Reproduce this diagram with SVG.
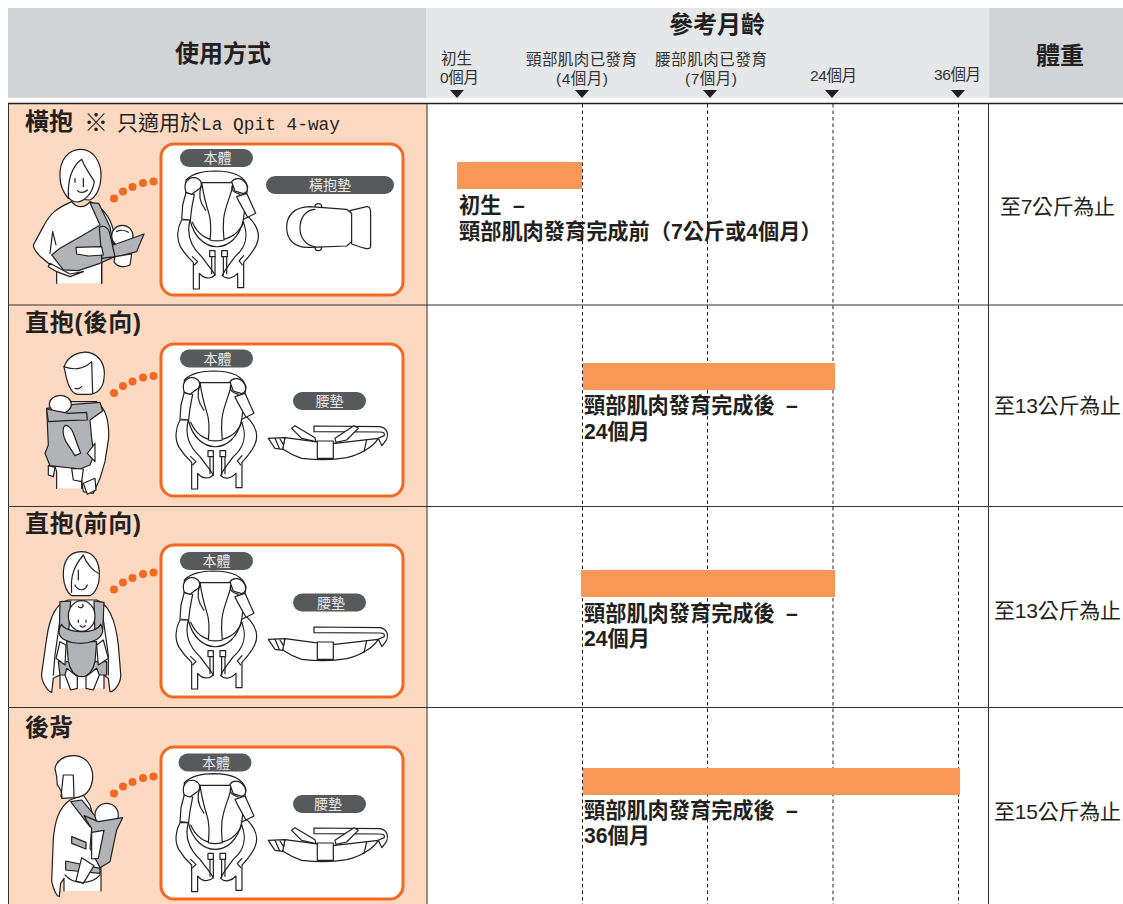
<svg xmlns="http://www.w3.org/2000/svg" width="1123" height="904" viewBox="0 0 1123 904">
<style>
text{font-family:"Liberation Sans","Noto Sans CJK TC","Noto Sans CJK JP",sans-serif;fill:#231f20}
.h{font-size:24px;font-weight:700}
.t{font-size:15.5px;fill:#333}
.b{font-size:21.200px;font-weight:700}
.w{font-size:21px}
.p{font-size:14px;fill:#e8e8e8;text-anchor:middle}
.box{fill:#fff;stroke:#f26a21;stroke-width:3}
.pill{fill:#58595b}
.row{fill:none;stroke:#333;stroke-width:1}
.dash{stroke:#231f20;stroke-width:1;stroke-dasharray:3.500 3;fill:none}
.bar{fill:#f99757}
.dot{fill:#f26a21}
.ln{fill:#fff;stroke:#231f20;stroke-width:3.600;stroke-linejoin:round;stroke-linecap:round}
.o{fill:none;stroke:#231f20;stroke-width:3.600;stroke-linejoin:round;stroke-linecap:round}
.g{fill:#b1b3b6;stroke:#231f20;stroke-width:3.600;stroke-linejoin:round}
</style>
<defs>
<g id="dots"><circle cx="114" cy="198.500" r="4"/><circle cx="123" cy="191.500" r="4"/><circle cx="132.500" cy="187" r="4"/><circle cx="143" cy="183" r="4"/><circle cx="153.500" cy="181.500" r="4"/></g>
<g id="carrier">
<path class="ln" d="M540 345C526 370 524 402 536 425C548 445 562 460 575 472V552H593V505C605 520 625 525 640 510C632 495 618 480 600 455C575 432 552 395 565 345Z"/>
<path class="ln" d="M740 335C770 365 776 395 764 420C752 445 737 460 726 472V548H708V505C695 520 675 525 662 512C668 495 682 480 700 455C728 432 745 395 722 345Z"/>
<path class="ln" d="M553 225C575 203 605 199 640 198C690 198 728 210 738 245L735 265L725 345C702 452 590 452 565 345L553 265Z"/>
<path class="o" d="M572 352C590 392 620 405 645 405C675 405 708 392 726 352"/>
<path class="ln" d="M600 233H695C690 270 672 295 666 340C663 370 665 385 667 405C650 409 640 409 625 405C628 380 630 350 620 320C610 290 605 265 600 233Z"/>
<path class="ln" d="M553 262L543 300L540 342L566 345L570 310L578 268Z"/>
<path class="ln" d="M735 265L762 325L738 337L712 290L705 275Z"/>
<path class="o" d="M600 240C585 275 600 300 612 316M692 240C688 255 695 262 715 268"/>
<path class="ln" d="M553 262C543 235 560 215 580 218C598 222 604 236 595 250L570 268Z"/>
<path class="ln" d="M690 230C700 215 725 218 735 240C741 255 735 262 725 266L700 258Z"/>
<path class="ln" d="M624 437H640V455H624ZM660 437H677V455H660Z"/>
<path class="o" d="M630 455V506M640 455V510M665 455V510M675 455V506"/>
<path class="o" d="M572 455L588 470L578 480M726 452L712 468L722 480"/>
</g>
<g id="belt">
<path class="ln" d="M942 363L1140 365C1165 370 1165 390 1160 403L1146 422L1135 400L1153 392C1155 384 1150 381 1140 381L942 380Z"/>
<path class="ln" d="M855 398L945 410L1005 415L1135 400C1120 425 1080 450 1040 458C1000 465 950 465 905 460C880 452 860 440 848 432Z"/>
<path class="ln" d="M805 400L855 398L848 433L825 430Z"/>
<path class="o" d="M825 400L838 430M840 402L850 418M1100 405L1092 440"/>
<rect class="ln" x="952" y="408" width="48" height="52"/>
</g>
<g id="straps">
<path class="ln" d="M875 370L885 362L945 398L948 410L905 400Z"/>
<path class="ln" d="M1075 370L1062 362L1005 400L1008 412L1040 405Z"/>
</g>
</defs>

<g id="header">
<rect x="8" y="8" width="418" height="90" fill="#d1d3d4"/>
<rect x="426" y="8" width="563" height="90" fill="#e6e7e8"/>
<rect x="989" y="8" width="134" height="90" fill="#d1d3d4"/>
<text class="h" x="175" y="62">使用方式</text>
<text class="h" x="669" y="33">參考月齡</text>
<text class="h" x="1036" y="64">體重</text>
<text class="t" x="441" y="64">初生</text>
<text class="t" x="440" y="83" textLength="39">0個月</text>
<text class="t" x="526" y="65" textLength="111">頸部肌肉已發育</text>
<text class="t" x="556" y="84" textLength="52">(4個月)</text>
<text class="t" x="655" y="65" textLength="112">腰部肌肉已發育</text>
<text class="t" x="685" y="84" textLength="52">(7個月)</text>
<text class="t" x="810" y="81" textLength="47">24個月</text>
<text class="t" x="934" y="80" textLength="47">36個月</text>
<path fill="#231f20" d="M450 90H464L457 98ZM575 90H589L582 98ZM703 90H717L710 98ZM825 90H839L832 98ZM951 90H965L958 98Z"/>
</g>

<g id="table">
<rect x="8.500" y="103.500" width="418.500" height="801" fill="#fcd9c0"/>
<rect x="427" y="103.500" width="696" height="801" fill="#fff"/>
<path class="row" d="M8.500 904V103.500H1123M427 103V904M988.500 103V904M8 305H1123M8 506.500H1123M8 707.500H1123"/>
<path d="M8 103.500H1123" stroke="#231f20" stroke-width="1.500"/>
</g>

<g id="connectors">
<path class="dash" d="M582.500 104V904M707.500 104V904M833 104V904M958.500 104V904"/>
</g>

<g id="row-1">
<text class="h" x="25" y="130">橫抱</text>
<text x="84" y="131" font-size="24">※</text>
<text x="117" y="130" font-size="21">只適用於</text>
<text x="201" y="130" font-size="19" textLength="139" lengthAdjust="spacingAndGlyphs" style="font-family:'Liberation Mono','Noto Sans CJK TC',monospace">La Qpit 4-way</text>
<g transform="scale(.3333)">
<path class="ln" d="M170 850V805C140 790 100 755 100 735L130 680C150 640 170 625 215 605C230 625 255 625 270 605C310 625 330 650 340 690V770H305V850"/>
<path class="ln" d="M180 530C178 480 205 448 242 448C282 448 305 490 303 530C303 560 290 590 270 600L205 595C188 575 180 550 180 530Z"/>
<path class="ln" d="M205 592C203 540 215 500 245 478C258 510 275 530 283 545C280 565 272 580 262 590C240 612 220 610 205 592Z"/>
<path class="o" d="M225 535V547M250 535V560M232 572C240 580 255 578 262 570"/>
<path class="g" d="M270 608L296 610L330 680L345 770L300 790L235 812L190 810L155 765L180 745L250 705L300 675Z"/>
<circle class="ln" cx="367" cy="708" r="32"/>
<path class="o" d="M350 695C360 690 375 690 385 697"/>
<path class="g" d="M332 738L432 702L410 755L345 772Z"/>
<path class="g" d="M298 682C310 675 322 680 328 695L345 770L305 775Z"/>
<path class="ln" d="M228 742L305 740L310 765L265 768L230 762Z"/>
<path class="ln" d="M345 770L395 762L390 795C370 805 350 800 342 785Z"/>
<path class="ln" d="M150 790L210 822L250 815L210 830L170 815L145 800Z"/>
<path class="o" d="M150 760L158 695L168 735M305 765V850"/>
</g>
<use href="#dots" class="dot"/>
<rect class="box" x="161" y="144" width="242" height="151" rx="13"/>
<rect class="pill" x="180" y="149" width="73" height="18" rx="9"/><text class="p" x="217.500" y="163">本體</text>
<rect class="pill" x="266" y="176" width="128" height="18" rx="9"/><text class="p" x="330" y="190">橫抱墊</text>
<use href="#carrier" transform="translate(1.700 105) scale(.3333)"/>
<g transform="scale(.3333)">
<path class="ln" d="M1050 632L1100 620C1112 618 1112 630 1112 650C1112 690 1112 720 1112 740C1110 750 1100 748 1055 732Z"/>
<path class="ln" d="M945 620C945 608 965 608 965 620V632H945ZM945 740H965C965 756 945 756 945 740Z"/>
<path class="ln" d="M930 620C880 620 860 650 860 682C860 720 885 745 930 742L1040 738L1055 725V640L1040 628Z"/>
<path class="o" d="M945 628C915 630 900 655 900 685C900 715 920 738 945 740"/>
</g>
<rect class="bar" x="457" y="162" width="125" height="27"/>
<text class="b" x="459" y="213">初生<tspan x="513">–</tspan></text>
<text class="b" x="459" y="239">頸部肌肉發育完成前（7公斤或4個月）</text>
<text class="w" x="1000" y="214" textLength="115">至7公斤為止</text>
</g>

<g id="row-2">
<text class="h" x="25" y="331" textLength="116">直抱(後向)</text>
<g transform="translate(0 305) scale(.3333)">
<path class="ln" d="M170 550V500L150 440L200 290L290 290C318 310 328 345 326 400L315 470L300 520L280 565L250 560L245 525V550"/>
<path class="ln" d="M192 185C205 150 240 138 265 142C300 150 318 180 312 220C310 250 290 268 265 268H235C218 268 205 245 200 222Z"/>
<path class="o" d="M192 185C215 195 250 195 275 170L278 265M225 250C235 255 240 250 245 245"/>
<path class="g" d="M220 298L300 292L308 318L270 345L275 400L282 450L270 480L240 492L150 482L135 445L145 420L140 310Z"/>
<ellipse class="ln" cx="181" cy="298" rx="33" ry="27"/>
<path class="g" d="M140 312L205 325L260 322L262 345L200 347L145 350Z"/>
<path class="ln" d="M190 370C195 352 212 365 220 385L242 445L225 452L198 410C190 395 188 385 190 370Z"/>
<path class="ln" d="M285 415V470L262 445Z"/>
<path class="ln" d="M145 482L165 487L160 515L145 510ZM215 490L250 492L245 530L220 525Z"/>
<path class="ln" d="M250 535L285 520L288 555L262 568Z"/>
</g>
<use href="#dots" class="dot" transform="translate(0 194.500)"/>
<rect class="box" x="161" y="344" width="242" height="152" rx="13"/>
<rect class="pill" x="180" y="349.500" width="73" height="18" rx="9"/><text class="p" x="217.500" y="363.500">本體</text>
<rect class="pill" x="293" y="392" width="73" height="18" rx="9"/><text class="p" x="329.500" y="406">腰墊</text>
<use href="#carrier" transform="translate(0 305) scale(.3333)"/>
<use href="#belt" transform="translate(0 305) scale(.3333)"/>
<use href="#straps" transform="translate(0 305) scale(.3333)"/>
<rect class="bar" x="583" y="363" width="252" height="27"/>
<text class="b" x="584" y="413">頸部肌肉發育完成後<tspan x="786">–</tspan></text>
<text class="b" x="584" y="439">24個月</text>
<text class="w" x="994" y="413" textLength="127">至13公斤為止</text>
</g>

<g id="row-3">
<text class="h" x="25" y="532" textLength="116">直抱(前向)</text>
<g transform="translate(0 505) scale(.3333)">
<path class="ln" d="M180 550V510L160 520L155 562C145 560 122 530 125 505L140 400C150 330 170 295 205 285H290C320 295 345 330 355 420L362 505C365 530 345 560 330 560L325 520L312 510V550"/>
<path class="o" d="M182 330L165 450L160 510M308 330L325 450L325 510"/>
<path class="g" d="M175 470H320V510H180Z"/>
<path class="g" d="M180 290L212 288L205 400L178 380ZM282 288L312 292L308 380L285 400Z"/>
<path class="ln" d="M190 215C188 170 205 140 245 140C285 140 300 175 298 215C298 240 285 265 270 272H215C200 262 192 240 190 215Z"/>
<path class="o" d="M215 262C210 210 225 180 250 150C260 180 285 200 295 205M235 195V225M225 240C235 260 255 258 262 240"/>
<ellipse class="ln" cx="245" cy="333" rx="40" ry="46"/>
<path class="o" d="M235 345V352M258 345V352M240 362C245 368 252 368 256 362M235 305C245 312 252 305 248 298"/>
<path class="g" d="M200 410H290L285 470C280 495 265 515 245 515C225 515 210 495 205 470Z"/>
<path class="g" d="M185 358C195 385 290 390 302 358C315 380 305 398 280 408C250 420 215 415 195 405C175 395 172 375 185 358Z"/>
<path class="ln" d="M180 410L198 420L195 480L168 460ZM310 405L290 420L295 480L325 460Z"/>
<path class="ln" d="M200 490L232 515L232 550L212 555L195 510ZM290 490L258 515V550L280 555L298 510Z"/>
</g>
<use href="#dots" class="dot" transform="translate(0 391)"/>
<rect class="box" x="161" y="545" width="242" height="152" rx="13"/>
<rect class="pill" x="180" y="552" width="73" height="18" rx="9"/><text class="p" x="216.500" y="566">本體</text>
<rect class="pill" x="293" y="593.500" width="73" height="18" rx="9"/><text class="p" x="331" y="607.500">腰墊</text>
<use href="#carrier" transform="translate(0 505) scale(.3333)"/>
<use href="#belt" transform="translate(0 506) scale(.3333)"/>
<rect class="bar" x="581" y="570" width="254" height="27"/>
<text class="b" x="584" y="621">頸部肌肉發育完成後<tspan x="786">–</tspan></text>
<text class="b" x="584" y="646">24個月</text>
<text class="w" x="994" y="618" textLength="127">至13公斤為止</text>
</g>

<g id="row-4">
<text class="h" x="25" y="736">後背</text>
<g transform="translate(0 705) scale(.3333)">
<path class="ln" d="M192 558V520L182 535L178 575C170 575 160 550 155 530L160 400C165 350 175 310 210 285L250 270L270 300L300 410L303 495V558"/>
<path class="ln" d="M165 190C170 165 195 150 225 152C260 155 280 185 278 220C275 250 260 275 225 278L185 280C188 265 180 250 172 240L170 215Z"/>
<path class="o" d="M190 210H220L222 275M190 210L183 275"/>
<path class="g" d="M215 395L258 412V432L215 415ZM197 468L300 490V505L197 495Z"/>
<path class="g" d="M212 290L245 285L295 345L270 365L258 350Z"/>
<circle class="ln" cx="320" cy="330" r="35"/>
<path class="g" d="M252 332L295 350L368 338L350 375L330 470L300 488L270 430L275 370L262 350Z"/>
<path class="ln" d="M275 382L312 376L295 460L275 462Z"/>
<path class="ln" d="M245 458L282 482L250 535L228 528Z"/>
<path class="o" d="M195 510C220 540 275 540 300 510"/>
</g>
<use href="#dots" class="dot" transform="translate(0 595)"/>
<rect class="box" x="161" y="747" width="242" height="152" rx="13"/>
<rect class="pill" x="178.500" y="753.500" width="73" height="18" rx="9"/><text class="p" x="216" y="767.500">本體</text>
<rect class="pill" x="293" y="795" width="73" height="18" rx="9"/><text class="p" x="328" y="809">腰墊</text>
<use href="#carrier" transform="translate(0 707.700) scale(.3333)"/>
<use href="#belt" transform="translate(0 707) scale(.3333)"/>
<use href="#straps" transform="translate(0 707) scale(.3333)"/>
<rect class="bar" x="583" y="768" width="377" height="27"/>
<text class="b" x="584" y="818">頸部肌肉發育完成後<tspan x="786">–</tspan></text>
<text class="b" x="584" y="843">36個月</text>
<text class="w" x="994" y="819" textLength="127">至15公斤為止</text>
</g>
</svg>
